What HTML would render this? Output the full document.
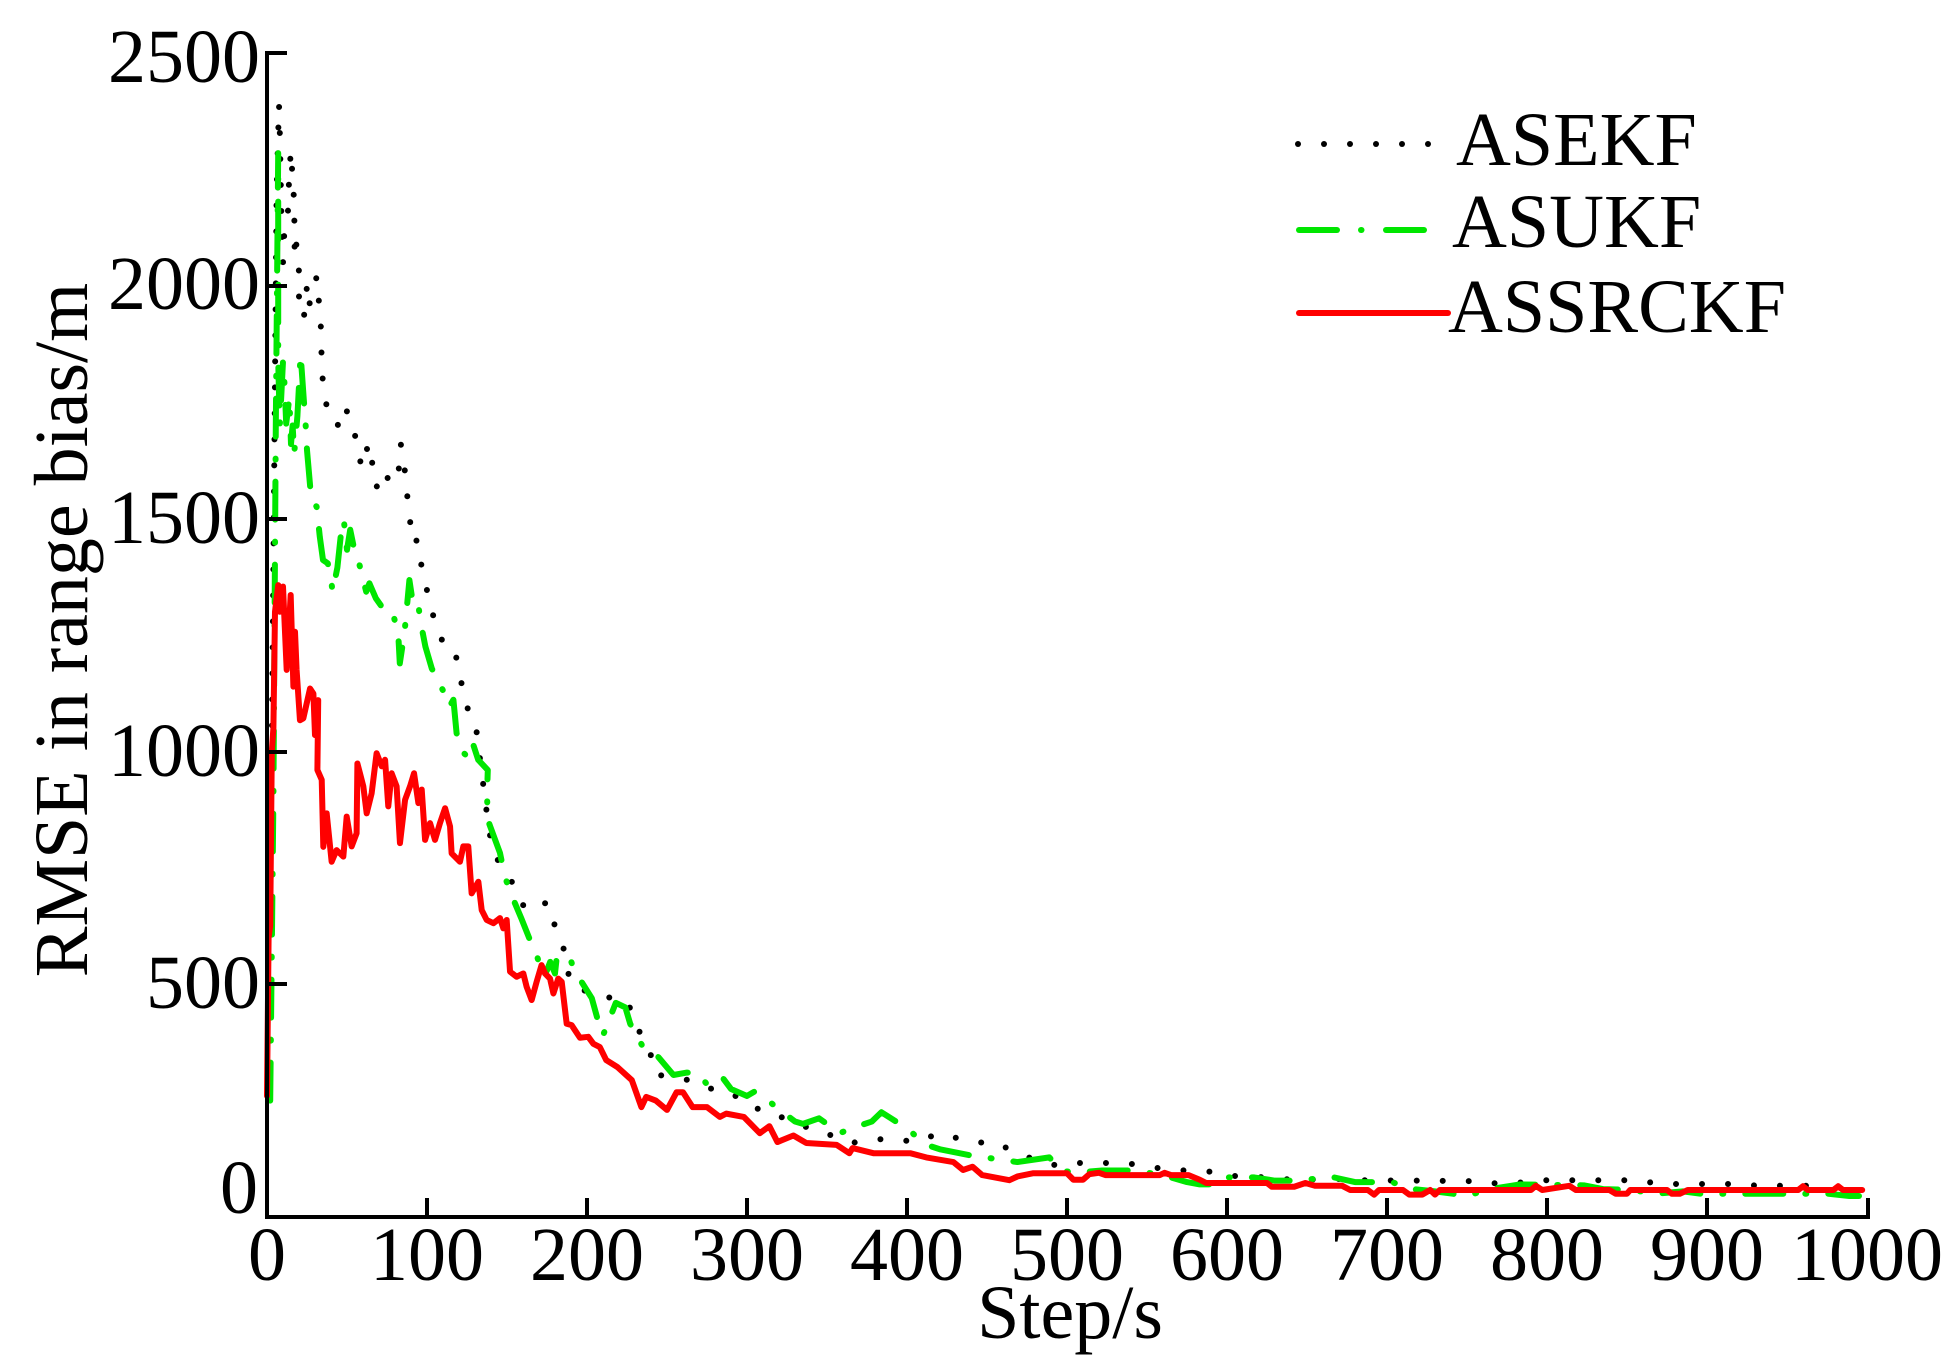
<!DOCTYPE html>
<html>
<head>
<meta charset="utf-8">
<style>
  html, body { margin: 0; padding: 0; background: #ffffff; }
  svg { display: block; }
  text { font-family: "Liberation Serif", "Times New Roman", serif; font-size: 76px; fill: #000; }
</style>
</head>
<body>
<svg width="1948" height="1360" viewBox="0 0 1948 1360" xmlns="http://www.w3.org/2000/svg">
  <rect x="0" y="0" width="1948" height="1360" fill="#ffffff"/>

  <!-- data series: x = 267 + 1.6*s, y = 1217 - 0.4656*v -->
  <g transform="translate(267,1217) scale(1.6,-0.4656)">
    <!-- ASEKF black dotted -->
    <path fill="none" stroke="#000000" stroke-width="6" stroke-linecap="round" stroke-linejoin="round" stroke-dasharray="0 26" vector-effect="non-scaling-stroke"
      d="M3,1000 L4,1400 L5,1800 L6,2200 L7.5,2390 L8,2330 L9,2150 L10,2050 L11,2130 L13,2150 L14,2250 L15,2290 L16,2230 L17,2180 L17.3,2070 L18,2100 L20,2030 L20,1977 L23,1930 L25,2000 L26,1957 L28.5,1978 L31,2020 L32,1982 L33.5,1928 L34,1870 L34.2,1817 L36,1767 L38.8,1712 L45,1700 L48,1740 L51,1725 L55,1679 L59,1612 L61,1612 L63,1662 L65.8,1619 L70,1599 L68.5,1566 L73,1556 L75,1588 L81,1575 L82.7,1615 L83.5,1661 L84.6,1648 L86.5,1592 L88,1537 L89.8,1484 L91,1447 L94,1454 L96.5,1400 L99.2,1357 L103,1305 L104.4,1284 L108,1250 L113,1210 L118,1207 L121,1153 L124,1118 L127,1064 L131,1042 L133,987 L135,933 L137,878 L139,826 L142,780 L148,745 L154,715 L159,681 L161,661 L166,670 L176,675 L180,624 L185,586 L187,532 L193.5,488 L204,484 L209,474 L225,466 L230,420 L235,381 L241,340 L243,305 L251,303 L255,300 L269,290 L278,275 L287,270 L291,265 L298,245 L303,240 L313,220 L319,218 L343,185 L348,177 L358,175 L367,160 L381,167 L395,167 L405,160 L409,165 L420,180 L434,167 L443,160 L457,160 L467,137 L494,110 L507,116 L537,116 L552,107 L568,101 L591,97 L605,88 L620,86 L645,79 L665,83 L680,79 L758,77 L770,71 L779,72 L794,79 L856,79 L871,71 L919,71 L933,67 L975,67"/>

    <!-- ASUKF green dash-dot -->
    <path fill="none" stroke="#00e600" stroke-width="6" stroke-linecap="round" stroke-linejoin="round" stroke-dasharray="38 22 1 22" vector-effect="non-scaling-stroke"
      d="M2,250 L4,900 L5.5,1700 L7,2285 L7,1840 L8,1700 L10,1838 L11,1786 L12,1704 L14,1760 L15,1660 L16,1700 L17,1640 L19,1720 L21,1853 L23,1755 L24,1711 L25,1647 L27,1568 L29,1530 L31,1526 L33,1461 L35,1411 L38,1404 L40,1369 L41,1343 L44,1395 L46,1460 L48,1497 L50,1433 L52,1476 L55,1426 L56,1423 L58,1398 L62,1343 L64,1361 L68,1329 L76,1290 L79,1292 L82,1254 L83,1189 L86,1257 L89,1368 L91.5,1311 L94.6,1314 L96,1278 L99,1225 L103,1178 L111,1124 L114,1096 L116.5,1111 L118.5,1039 L122,1000 L124,993 L128,1024 L132,982 L138,960 L137.5,907 L138,853 L145.6,782 L148.7,731 L152,698 L159,641 L164,598 L168.5,563 L172.7,516 L175,530 L177,548 L180,523 L181,555 L186,555 L189,560 L192,530 L203,470 L207,420 L210,390 L218,460 L224,450 L227,415 L235,365 L238,365 L243,350 L254,305 L262,310 L269,310 L275,285 L277,290 L279,285 L285,298 L290,275 L300,260 L305,270 L315,245 L330,205 L335,200 L345,212 L358,180 L365,190 L378,205 L384,225 L400,190 L412,155 L421,145 L443,130 L455,125 L469,118 L489,128 L496,100 L505,95 L522,100 L541,100 L560,90 L575,75 L583,70 L590,70 L596,85 L617,85 L630,78 L640,78 L655,82 L667,85 L680,75 L703,75 L716,60 L730,55 L750,46 L765,60 L783,70 L823,68 L835,60 L853,58 L868,50 L885,55 L896,50 L976,50 L989,45 L995,45"/>

    <!-- ASSRCKF red solid -->
    <path fill="none" stroke="#ff0000" stroke-width="6" stroke-linecap="round" stroke-linejoin="round" vector-effect="non-scaling-stroke"
      d="M0,260 L1,600 L2,625 L3,1000 L4,1050 L5,1300 L7,1357 L8,1300 L10,1354 L12.3,1175 L14.8,1336 L16.5,1139 L17.5,1257 L18.5,1175 L20.6,1067 L22.7,1071 L26.9,1135 L29,1124 L30,1035 L32,1110 L31.5,960 L34.2,939 L35.2,795 L37.3,867 L40.4,763 L43.5,788 L47.7,774 L49.8,860 L52.9,796 L56,824 L56.5,974 L58.1,953 L60.2,925 L62.3,867 L65.4,910 L68.5,996 L71.7,968 L73.8,982 L75.8,882 L77.9,953 L81,925 L83.1,803 L86.3,896 L89.4,925 L91.9,953 L94.6,889 L96.7,918 L98.8,810 L101.9,846 L105,810 L108.1,846 L111.3,878 L114.4,839 L115.4,781 L120.6,763 L122.7,796 L125.8,796 L127.9,695 L132.1,720 L134.2,659 L137.3,638 L141.5,631 L145.6,642 L147.7,620 L149.8,638 L151.9,527 L156,516 L160.2,523 L162.3,494 L165.4,466 L168.5,505 L171.6,541 L173.8,523 L176.9,512 L179,480 L182,512 L184.2,505 L187.3,415 L190.4,412 L195.6,385 L200.8,387 L204,372 L208,365 L212,337 L219,322 L228,294 L234,236 L237,258 L243,250 L250,230 L256,268 L260,268 L266,236 L275,236 L283,215 L287,222 L298,215 L308,180 L314,195 L319,161 L329,175 L337,159 L356,155 L364,137 L366,148 L379,137 L402,137 L412,128 L429,118 L435,101 L441,108 L447,90 L464,79 L469,87 L479,94 L500,94 L504,80 L510,80 L514,92 L520,95 L524,90 L558,90 L561,95 L565,90 L576,90 L583,80 L587,73 L625,73 L628,65 L642,65 L649,73 L655,67 L672,67 L677,58 L688,58 L692,48 L695,58 L710,58 L714,48 L722,48 L727,58 L730,48 L733,58 L790,58 L793,67 L797,58 L814,67 L818,58 L839,58 L843,50 L850,50 L852,58 L875,58 L878,50 L883,50 L888,58 L957,58 L960,66 L963,58 L979,58 L982,66 L985,58 L997,58"/>
  </g>

  <!-- axes -->
  <g stroke="#000" stroke-width="4" fill="none" stroke-linecap="square">
    <line x1="267" y1="53" x2="267" y2="1217"/>
    <line x1="267" y1="1217" x2="1868" y2="1217"/>
    <!-- y ticks -->
    <line x1="267" y1="53" x2="285" y2="53"/>
    <line x1="267" y1="286" x2="285" y2="286"/>
    <line x1="267" y1="519" x2="285" y2="519"/>
    <line x1="267" y1="752" x2="285" y2="752"/>
    <line x1="267" y1="984" x2="285" y2="984"/>
    <!-- x ticks -->
    <line x1="427" y1="1217" x2="427" y2="1200"/>
    <line x1="587" y1="1217" x2="587" y2="1200"/>
    <line x1="747" y1="1217" x2="747" y2="1200"/>
    <line x1="907" y1="1217" x2="907" y2="1200"/>
    <line x1="1067" y1="1217" x2="1067" y2="1200"/>
    <line x1="1227" y1="1217" x2="1227" y2="1200"/>
    <line x1="1387" y1="1217" x2="1387" y2="1200"/>
    <line x1="1547" y1="1217" x2="1547" y2="1200"/>
    <line x1="1707" y1="1217" x2="1707" y2="1200"/>
    <line x1="1868" y1="1217" x2="1868" y2="1200"/>
  </g>

  <!-- y tick labels -->
  <g text-anchor="end">
    <text x="260" y="82">2500</text>
    <text x="260" y="309">2000</text>
    <text x="260" y="543">1500</text>
    <text x="260" y="776">1000</text>
    <text x="260" y="1008">500</text>
    <text x="258" y="1213">0</text>
  </g>

  <!-- x tick labels -->
  <g text-anchor="middle">
    <text x="267" y="1280">0</text>
    <text x="427" y="1280">100</text>
    <text x="587" y="1280">200</text>
    <text x="747" y="1280">300</text>
    <text x="907" y="1280">400</text>
    <text x="1067" y="1280">500</text>
    <text x="1227" y="1280">600</text>
    <text x="1387" y="1280">700</text>
    <text x="1547" y="1280">800</text>
    <text x="1707" y="1280">900</text>
    <text x="1867" y="1280">1000</text>
  </g>

  <!-- axis titles -->
  <text x="1070" y="1338" text-anchor="middle">Step/s</text>
  <text transform="translate(87,630) rotate(-90)" text-anchor="middle">RMSE in range bias/m</text>

  <!-- legend -->
  <g fill="#000">
    <circle cx="1298" cy="144" r="3"/>
    <circle cx="1324" cy="144" r="3"/>
    <circle cx="1350" cy="144" r="3"/>
    <circle cx="1376" cy="144" r="3"/>
    <circle cx="1402" cy="144" r="3"/>
    <circle cx="1428" cy="144" r="3"/>
  </g>
  <text x="1456" y="165">ASEKF</text>

  <g stroke="#00e600" stroke-width="6" stroke-linecap="round">
    <line x1="1299" y1="230" x2="1337" y2="230"/>
    <line x1="1361" y1="230" x2="1361.5" y2="230"/>
    <line x1="1386" y1="230" x2="1424" y2="230"/>
  </g>
  <text x="1452" y="247">ASUKF</text>

  <line x1="1299" y1="313" x2="1448" y2="313" stroke="#ff0000" stroke-width="6" stroke-linecap="round"/>
  <text x="1448" y="332">ASSRCKF</text>
</svg>
</body>
</html>
